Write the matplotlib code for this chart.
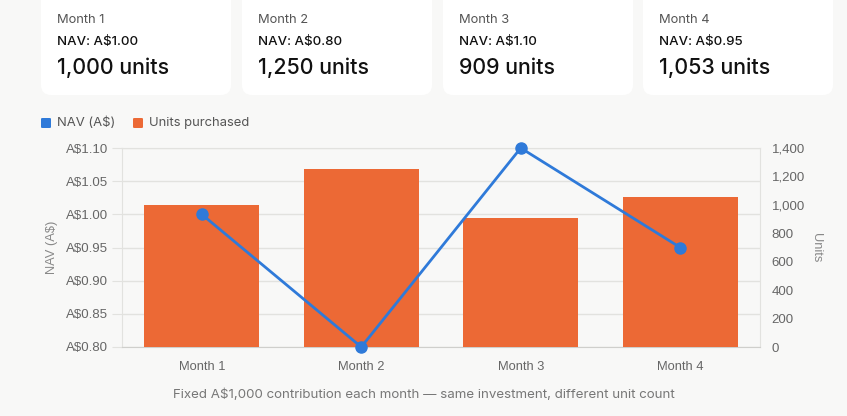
import matplotlib
matplotlib.use("Agg")
import matplotlib.pyplot as plt
from matplotlib.patches import FancyBboxPatch
from matplotlib.ticker import FixedLocator, FuncFormatter

months = ["Month 1", "Month 2", "Month 3", "Month 4"]
nav = [1.00, 0.80, 1.10, 0.95]
units = [1000, 1250, 909, 1053]
nav_ticks = [0.80, 0.85, 0.90, 0.95, 1.00, 1.05, 1.10]
unit_ticks = [0, 200, 400, 600, 800, 1000, 1200, 1400]
caption = "Fixed A$1,000 contribution each month — same investment, different unit count"

BG = "#f8f8f7"
ORANGE = "#ec6935"
BLUE = "#2f7ad9"
GRID = "#e2e2df"
TICK = "#666666"
W, H = 847, 416

fig = plt.figure(figsize=(W / 100, H / 100), dpi=100, facecolor=BG)

def fx(px):
    return px / W

def fy(py):
    return 1 - py / H

# Cards
card_x = [41, 242, 443, 643]
card_w = 190
for i, cx in enumerate(card_x):
    p = FancyBboxPatch((fx(cx), fy(95)), fx(card_w), fy(-10) - fy(95),
                       boxstyle="round,pad=0,rounding_size=0.012",
                       transform=fig.transFigure, facecolor="#ffffff",
                       edgecolor="none", zorder=0, mutation_aspect=W / H)
    fig.patches.append(p)
    tx = fx(cx + 16)
    fig.text(tx, fy(20), months[i], fontsize=9.3, color="#555555",
             family="Inter", va="center", ha="left")
    fig.text(tx, fy(42), f"NAV: A${nav[i]:.2f}", fontsize=9.6, color="#111111",
             family="Inter", va="center", ha="left", weight="medium")
    fig.text(tx, fy(68), f"{units[i]:,} units", fontsize=15.4, color="#111111",
             family="Inter", va="center", ha="left", weight="medium")

# Legend
for lx, col, txt in [(41, BLUE, "NAV (A$)"), (133, ORANGE, "Units purchased")]:
    fig.patches.append(FancyBboxPatch((fx(lx), fy(128)), fx(10), fy(118) - fy(128),
                                      boxstyle="round,pad=0,rounding_size=0.002",
                                      transform=fig.transFigure, facecolor=col,
                                      edgecolor="none"))
    fig.text(fx(lx + 16), fy(123), txt, fontsize=9.4, color="#555555",
             family="Inter", va="center", ha="left")

# Axes
left, right, top, bottom = 122, 760, 148, 347
rect = [fx(left), fy(bottom), fx(right - left), fy(top) - fy(bottom)]
ax = fig.add_axes(rect)
ax.set_facecolor(BG)
ax.set_ylim(nav_ticks[0], nav_ticks[-1])
ax.set_xlim(-0.5, len(months) - 0.5)
ax.yaxis.set_major_locator(FixedLocator(nav_ticks))
ax.yaxis.set_major_formatter(FuncFormatter(lambda v, p: f"A${v:.2f}"))
ax.grid(axis="y", color=GRID, linewidth=1)
ax.set_xticks(range(len(months)))
ax.set_xticklabels(months)
ax.tick_params(axis="y", length=7, color=GRID, labelcolor=TICK, labelsize=9.5, pad=3)
ax.tick_params(axis="x", length=0, labelcolor=TICK, labelsize=9.3, pad=10)
for lab in ax.get_yticklabels() + ax.get_xticklabels():
    lab.set_family("Liberation Sans")
ax.set_ylabel("NAV (A$)", color="#888888", fontsize=9.3, family="Liberation Sans", labelpad=6)
for s in ["left", "right", "top"]:
    ax.spines[s].set_color(GRID)
ax.spines["bottom"].set_color("#cfcfcc")

axb = ax.twinx()
axb.set_ylim(unit_ticks[0], unit_ticks[-1])
axb.yaxis.set_major_locator(FixedLocator(unit_ticks))
axb.yaxis.set_major_formatter(FuncFormatter(lambda v, p: f"{int(v):,}"))
axb.tick_params(axis="y", length=0, labelcolor=TICK, labelsize=9.5, pad=8.5)
for lab in axb.get_yticklabels():
    lab.set_family("Liberation Sans")
axb.set_ylabel("Units", color="#888888", fontsize=9.3, family="Liberation Sans",
               rotation=-90, labelpad=12)
for s in axb.spines.values():
    s.set_visible(False)
axb.bar(range(len(months)), units, width=0.72, color=ORANGE, zorder=2)

axl = ax.twinx()
axl.set_ylim(nav_ticks[0], nav_ticks[-1])
axl.set_yticks([])
for s in axl.spines.values():
    s.set_visible(False)
axl.plot(range(len(months)), nav, color=BLUE, linewidth=2, marker="o",
         markersize=8, clip_on=False, zorder=3)

fig.text(0.5, fy(395), caption, fontsize=9.6, color="#777777", family="Inter",
         ha="center", va="center")

fig.savefig("out.png", dpi=100, facecolor=BG)
